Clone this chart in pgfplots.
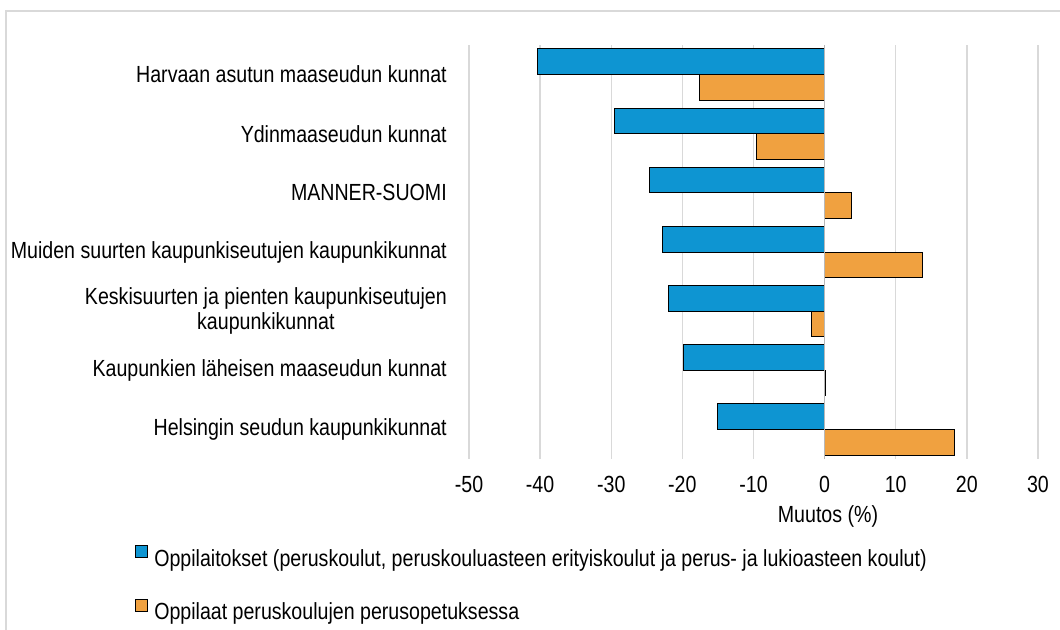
\documentclass[border=0pt]{standalone}
\usepackage{fontspec}
\setmainfont{Liberation Sans}[FakeStretch=0.84]
\usepackage{pgfplots}
\pgfplotsset{compat=1.18}
\definecolor{barblue}{HTML}{0E95D2}
\definecolor{barorange}{HTML}{F0A140}
\definecolor{gridgray}{HTML}{D9D9D9}
\newcommand{\lblfont}{\fontsize{17.5}{18.75}\selectfont}
\begin{document}
\begin{tikzpicture}
% picture 1060 x 630 px, 1 px = 0.75pt
\path[use as bounding box] (0,0) rectangle (795pt,472.5pt);
\draw[gridgray, line width=1.5pt] (4.5pt,-2pt) -- (4.5pt,464.25pt) -- (797pt,464.25pt);
\begin{axis}[
    at={(351.75pt,128.25pt)}, anchor=south west,
    scale only axis, width=426.75pt, height=310.5pt,
    xbar, bar width=0.434,
    xmin=-50, xmax=30,
    ymin=-0.5, ymax=6.5, y dir=reverse,
    xtick={-50,-40,-30,-20,-10,0,10,20,30},
    xticklabels={-50,-40,-30,-20,-10,0,10,20,30},
    ytick={0,1,2,3,4,5,6},
    yticklabels={Harvaan asutun maaseudun kunnat,
                 Ydinmaaseudun kunnat,
                 MANNER-SUOMI,
                 Muiden suurten kaupunkiseutujen kaupunkikunnat,
                 {Keskisuurten ja pienten kaupunkiseutujen\\kaupunkikunnat},
                 Kaupunkien läheisen maaseudun kunnat,
                 Helsingin seudun kaupunkikunnat},
    y tick label style={font=\lblfont, align=center, anchor=east, inner sep=0pt, xshift=-16.5pt},
    x tick label style={font=\lblfont, anchor=north, inner sep=0pt, yshift=-13pt},
    major tick length=0pt,
    axis line style={draw=none},
    xmajorgrids, grid style={gridgray, line width=1.1pt},
    legend style={at={(-0.587,-0.2075)}, anchor=north west, draw=none, fill=none,
        inner sep=0pt, row sep=21pt, column sep=0pt,
        nodes={inner sep=0pt, text height=12.5pt, text depth=3.5pt, font=\lblfont}},
    legend cell align=left,
    legend image code/.code={\draw[#1, draw=black, line width=0.75pt] (0pt,1.75pt) rectangle (9pt,10.75pt);},
]
% Oppilaitokset
\addplot[fill=barblue, draw=black, line width=0.75pt, bar shift=-0.217] coordinates {
  (-40.4,0) (-29.5,1) (-24.6,2) (-22.8,3) (-22.0,4) (-19.9,5) (-15.1,6)};
\addlegendentry{\hspace{4.5pt}Oppilaitokset (peruskoulut, peruskouluasteen erityiskoulut ja perus- ja lukioasteen koulut)}
% Oppilaat
\addplot[fill=barorange, draw=black, line width=0.75pt, bar shift=0.217] coordinates {
  (-17.6,0) (-9.6,1) (3.8,2) (13.8,3) (-1.8,4) (0.1,5) (18.3,6)};
\addlegendentry{\hspace{4.5pt}Oppilaat peruskoulujen perusopetuksessa}
\draw[gridgray!85!black, line width=1.1pt] (axis cs:0,-0.5) -- (axis cs:0,6.5);
\end{axis}
\node[font=\lblfont] at (621pt,85.5pt) {Muutos (\%)};
\end{tikzpicture}
\end{document}
